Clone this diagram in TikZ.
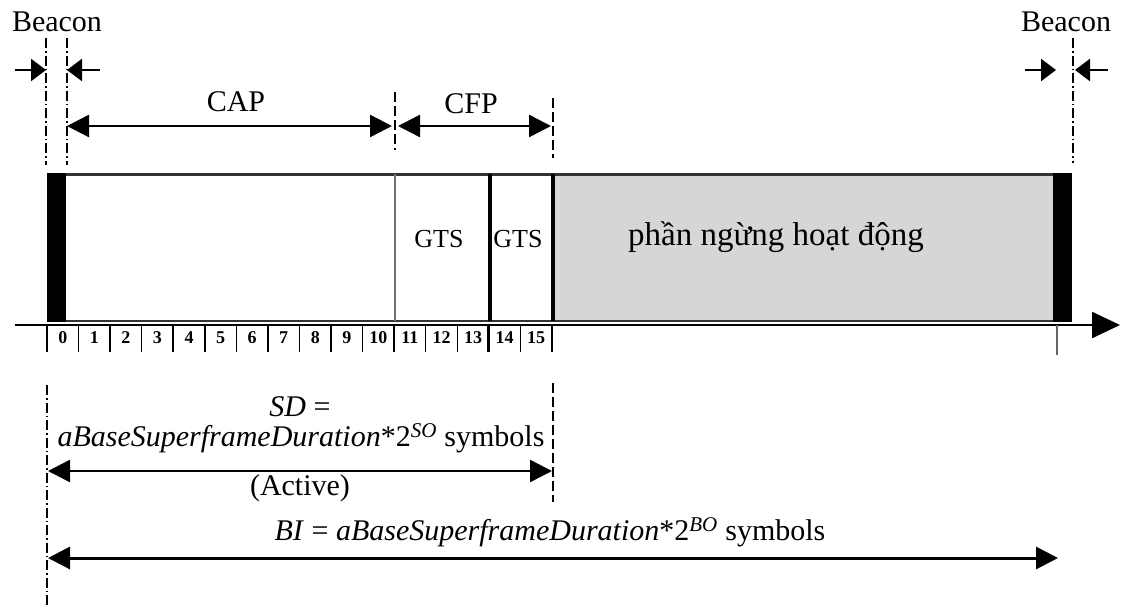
\documentclass[tikz,border=0pt]{standalone}
\usepackage{fontspec}
\setmainfont{Liberation Serif}
\usetikzlibrary{arrows.meta}
\begin{document}
\begin{tikzpicture}[x=1pt,y=-1pt,
  dbltip/.style={{Triangle[length=22pt,width=22pt]}-{Triangle[length=22pt,width=22pt]}},
  smalltip/.style={-{Triangle[length=15pt,width=22pt]}},
  arrline/.style={line width=2.5pt},
  dashdot/.style={line width=1.5pt, dash pattern=on 10pt off 3pt on 1.5pt off 3pt},
  dashln/.style={line width=1.5pt, dash pattern=on 10pt off 4pt},
  lbl/.style={font=\fontsize{30}{33}\selectfont, inner sep=0pt},
  gts/.style={font=\fontsize{26}{28}\selectfont, inner sep=0pt},
  num/.style={font=\fontsize{18}{20}\selectfont\bfseries, inner sep=0pt},
  tick/.style={line width=1.5pt},
  bar/.style={fill=black},
  idle/.style={fill=black!16},
]
\useasboundingbox (0,0) rectangle (1125,605);

% labels top
\node[lbl] (bcnL) at (57,22) {Beacon};
\node[lbl] (bcnR) at (1066,22) {Beacon};
\node[lbl] (cap) at (236,102) {CAP};
\node[lbl] (cfp) at (471,104) {CFP};

% coordinates
\coordinate (bL1t) at (46,38);  \coordinate (bL1b) at (46,165);
\coordinate (bL2t) at (67,38);  \coordinate (bL2b) at (67,165);
\coordinate (bR1t) at (1073,38); \coordinate (bR1b) at (1073,163);
\coordinate (d11t) at (395,92); \coordinate (d11b) at (395,150);
\coordinate (d16t) at (553,98); \coordinate (d16b) at (553,158);

% beacon dash-dot lines
\draw[dashdot] (bL1t) -- (bL1b);
\draw[dashdot] (bL2t) -- (bL2b);
\draw[dashdot] (bR1t) -- (bR1b);
\draw[dashln] (d11t) -- (d11b);
\draw[dashln] (d16t) -- (d16b);

% beacon arrows
\coordinate (aL1s) at (15,70);  \coordinate (aL1e) at (46,70);
\coordinate (aL2s) at (100,70); \coordinate (aL2e) at (67,70);
\coordinate (aR1s) at (1025,70); \coordinate (aR1e) at (1056,70);
\coordinate (aR2s) at (1108,70); \coordinate (aR2e) at (1075,70);
\draw[arrline,smalltip] (aL1s) -- (aL1e);
\draw[arrline,smalltip] (aL2s) -- (aL2e);
\draw[arrline,smalltip] (aR1s) -- (aR1e);
\draw[arrline,smalltip] (aR2s) -- (aR2e);

% CAP / CFP arrows
\coordinate (capL) at (67,126); \coordinate (capR) at (392,126);
\coordinate (cfpL) at (398,126); \coordinate (cfpR) at (551,126);
\draw[arrline,dbltip] (capL) -- (capR);
\draw[arrline,dbltip] (cfpL) -- (cfpR);

% superframe box
\fill[idle] (553,174) rectangle (1053,321);
\draw[line width=3pt, black!80] (47,174) -- (1072,174);
\draw[line width=2pt, black!80] (47,321) -- (1072,321);
\fill[bar] (47,172.5) rectangle (66,322);
\fill[bar] (1053,172.5) rectangle (1072,322);
\draw[line width=2pt, black!55] (395,174) -- (395,321);
\draw[line width=3.5pt] (490,174) -- (490,321);
\draw[line width=3.5pt] (553,174) -- (553,321);

\node[gts] (gts1) at (439,239) {GTS};
\node[gts] (gts2) at (518,239) {GTS};
\node[font=\fontsize{33}{36}\selectfont, inner sep=0pt] (inact) at (776,237) {phần ngừng hoạt động};

% time axis
\coordinate (axS) at (15,325); \coordinate (axE) at (1120,325);
\draw[line width=2.5pt, -{Triangle[length=28pt,width=26pt]}] (axS) -- (axE);

% slot ticks and numbers
\foreach \i in {0,...,16} {
  \draw[tick] ({47+\i*31.56},325) -- ++(0,27);
}
\draw[line width=3pt] ({47+14*31.56},325) -- ++(0,27);
\foreach \i in {0,...,15} {
  \node[num] (s\i) at ({47+(\i+0.5)*31.56},338) {\i};
}
\draw[line width=2pt, black!60] (1057,325) -- (1057,355);

% SD
\coordinate (sdDL) at (47,385); \coordinate (sdDLb) at (47,605);
\coordinate (sdDR) at (553,383); \coordinate (sdDRb) at (553,502);
\draw[dashdot] (sdDL) -- (sdDLb);
\draw[dashln] (sdDR) -- (sdDRb);
\node[lbl] (sd1) at (300,407) {\textit{SD} =};
\node[lbl] (sd2) at (301,438) {\textit{aBaseSuperframeDuration}*2\textsuperscript{\textit{SO}} symbols};
\coordinate (sdL) at (48,471); \coordinate (sdR) at (552,471);
\draw[arrline,dbltip] (sdL) -- (sdR);
\node[lbl] (act) at (300,488) {(Active)};

% BI
\node[lbl] (bi) at (550,532) {\textit{BI} = \textit{aBaseSuperframeDuration}*2\textsuperscript{\textit{BO}} symbols};
\coordinate (biL) at (48,558); \coordinate (biR) at (1058,558);
\draw[line width=3pt,dbltip] (biL) -- (biR);
\end{tikzpicture}
\end{document}
